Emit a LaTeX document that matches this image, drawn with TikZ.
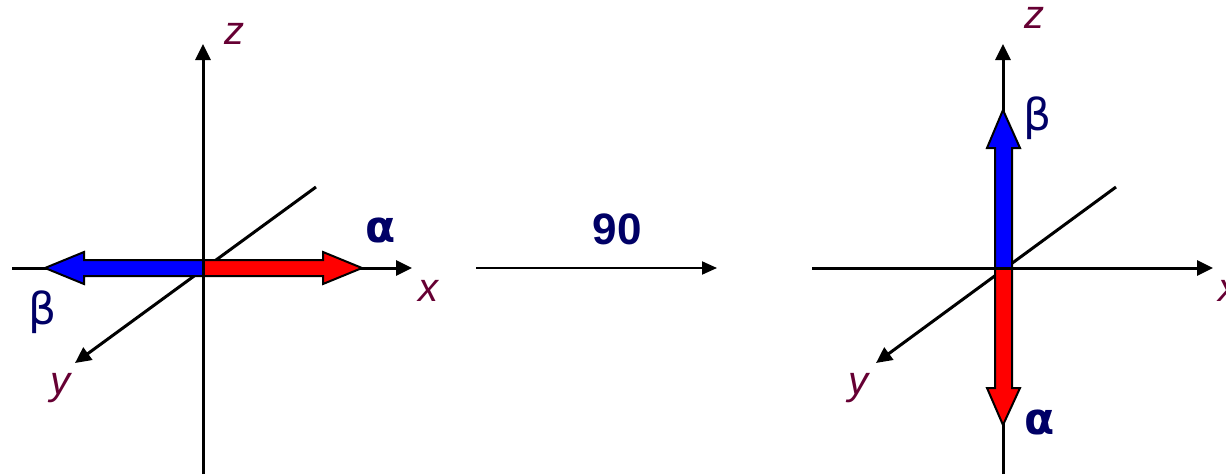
\documentclass[tikz,border=0pt]{standalone}
\usepackage{fontspec}
\setmainfont{Liberation Sans}
\newfontfamily\greekfont{DejaVu Sans}
\usetikzlibrary{arrows.meta}
\definecolor{lbl}{HTML}{660033}
\definecolor{greek}{HTML}{000066}
\definecolor{fblue}{HTML}{0000FF}
\definecolor{fred}{HTML}{FF0000}
\tikzset{
  axis/.style={line width=3pt,-{Triangle[length=16pt,width=15pt]}},
  fat/.style={draw=black,line width=2pt,line join=miter},
  axlabel/.style={text=lbl,font=\fontsize{40}{40}\selectfont\itshape,inner sep=0pt},
  alphalabel/.style={text=greek,font=\greekfont\fontsize{44}{44}\selectfont\bfseries,inner sep=0pt},
  betalabel/.style={text=greek,font=\greekfont\fontsize{44}{44}\selectfont,inner sep=0pt},
}
\begin{document}
\begin{tikzpicture}[x=1pt,y=-1pt]
\useasboundingbox (0,0) rectangle (1226,474);
% ---------- left frame ----------
\coordinate (O1) at (203,268);
\coordinate (xs1) at (12,268);
\coordinate (xe1) at (412,268);
\coordinate (zs1) at (203,474);
\coordinate (ze1) at (203,44);
\coordinate (ys1) at (316,187);
\coordinate (ye1) at (75,363);
\draw[axis] (ys1) -- (ye1);
\draw[axis] (xs1) -- (xe1);
% blue arrow (beta) to the left
\filldraw[fat,fill=fblue] (203,260) -- (84,260) -- (84,252) -- (45,268) -- (84,284) -- (84,276) -- (203,276) -- cycle;
% red arrow (alpha) to the right
\filldraw[fat,fill=fred] (203,260) -- (323,260) -- (323,252) -- (362,268) -- (323,284) -- (323,276) -- (203,276) -- cycle;
\draw[axis] (zs1) -- (ze1);
\node[axlabel] (z1) at (234,34) {z};
\node[axlabel] (x1) at (428,291) {x};
\node[axlabel] (y1) at (60,388) {y};
\node[alphalabel] (a1) at (381,230) {α};
\node[betalabel] (b1) at (43,312) {β};
% ---------- middle ----------
\coordinate (ms) at (476,268);
\coordinate (me) at (717,268);
\draw[line width=2pt,-{Triangle[length=15pt,width=13pt]}] (ms) -- (me);
\node[text=greek,font=\fontsize{44}{44}\selectfont\bfseries,inner sep=0pt] (n90) at (617,229) {90};
% ---------- right frame ----------
\coordinate (O2) at (1003,268);
\coordinate (xs2) at (812,268);
\coordinate (xe2) at (1213,268);
\coordinate (zs2) at (1003,474);
\coordinate (ze2) at (1003,44);
\coordinate (ys2) at (1116,187);
\coordinate (ye2) at (876,363);
\draw[axis] (ys2) -- (ye2);
\draw[axis] (zs2) -- (ze2);
% blue arrow (beta) up
\filldraw[fat,fill=fblue] (995,268) -- (995,148) -- (987,148) -- (1003,110) -- (1020,148) -- (1012,148) -- (1012,268) -- cycle;
% red arrow (alpha) down
\filldraw[fat,fill=fred] (995,268) -- (995,388) -- (987,388) -- (1003,425) -- (1020,388) -- (1012,388) -- (1012,268) -- cycle;
\draw[axis] (xs2) -- (xe2);
\node[axlabel] (z2) at (1034,18) {z};
\node[axlabel] (x2) at (1228,291) {x};
\node[axlabel] (y2) at (858,388) {y};
\node[alphalabel] (a2) at (1040,422) {α};
\node[betalabel] (b2) at (1038,118) {β};
\end{tikzpicture}
\end{document}
